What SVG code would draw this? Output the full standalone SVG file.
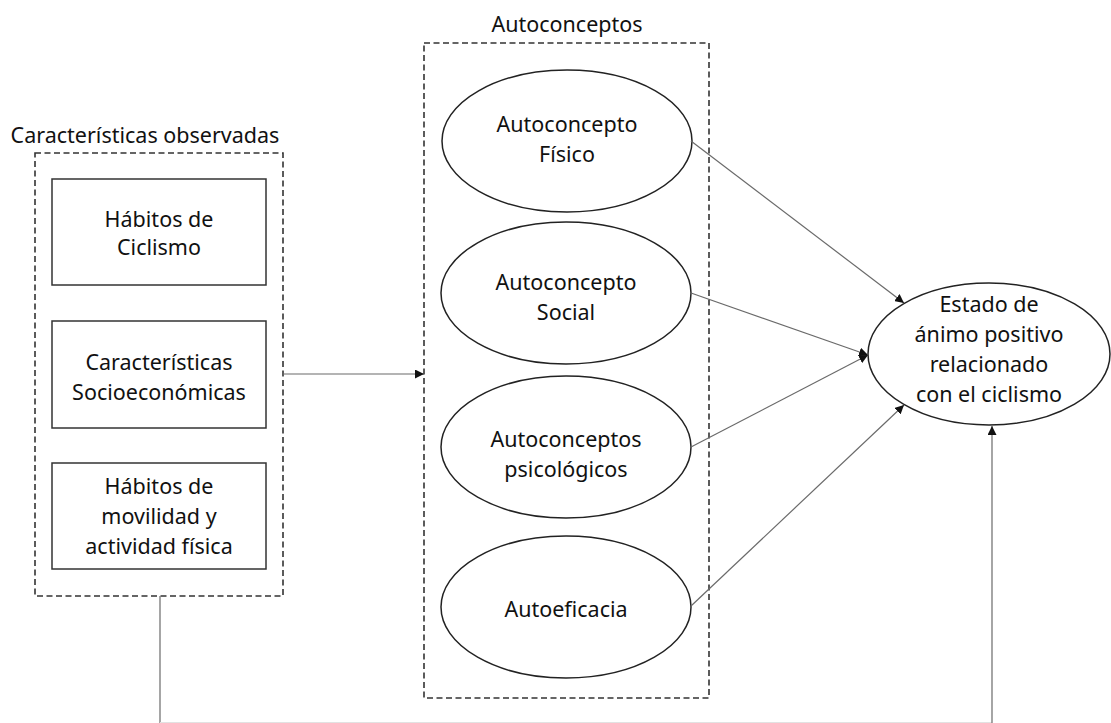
<svg xmlns="http://www.w3.org/2000/svg" width="1111" height="723" viewBox="0 0 1111 723">
  <style>
    text { font-family: "Noto Sans", "Open Sans", sans-serif; font-size: 21.5px; fill: #111; text-anchor: middle; }
    .group-box { fill: none; stroke: #333; stroke-width: 1.6; stroke-dasharray: 6 3.5; }
    .box { fill: #fff; stroke: #333; stroke-width: 1.5; }
    .oval { fill: #fff; stroke: #222; stroke-width: 1.5; }
    .link { fill: none; stroke: #6a6a6a; stroke-width: 1.2; }
  </style>
  <defs>
    <marker id="arrow" viewBox="0 0 10 10" refX="10" refY="5" markerWidth="9" markerHeight="9" markerUnits="userSpaceOnUse" orient="auto">
      <path d="M0,0 L10,5 L0,10 z" fill="#111"/>
    </marker>
  </defs>
  <rect width="1111" height="723" fill="#fff"/>

  <!-- Observed characteristics -->
  <g id="caracteristicas-observadas">
    <text x="145" y="143">Características observadas</text>
    <rect class="group-box" x="35" y="153" width="248" height="443"/>
  </g>
  <g id="habitos-ciclismo">
    <rect class="box" x="52" y="179" width="214" height="106"/>
    <text x="159" y="227">Hábitos de</text>
    <text x="159" y="255">Ciclismo</text>
  </g>
  <g id="caracteristicas-socioeconomicas">
    <rect class="box" x="52" y="321" width="214" height="107"/>
    <text x="159" y="370">Características</text>
    <text x="159" y="400">Socioeconómicas</text>
  </g>
  <g id="habitos-movilidad">
    <rect class="box" x="52" y="463" width="214" height="106"/>
    <text x="159" y="494">Hábitos de</text>
    <text x="159" y="524">movilidad y</text>
    <text x="159" y="554">actividad física</text>
  </g>

  <!-- Self-concepts -->
  <g id="autoconceptos">
    <text x="567" y="32">Autoconceptos</text>
    <rect class="group-box" x="424" y="43" width="285" height="655"/>
  </g>
  <g id="autoconcepto-fisico">
    <ellipse class="oval" cx="567" cy="141" rx="125" ry="71"/>
    <text x="567" y="132">Autoconcepto</text>
    <text x="567" y="162">Físico</text>
  </g>
  <g id="autoconcepto-social">
    <ellipse class="oval" cx="566" cy="293" rx="125" ry="71"/>
    <text x="566" y="290">Autoconcepto</text>
    <text x="566" y="320">Social</text>
  </g>
  <g id="autoconceptos-psicologicos">
    <ellipse class="oval" cx="566" cy="447" rx="125" ry="71"/>
    <text x="566" y="447">Autoconceptos</text>
    <text x="566" y="477">psicológicos</text>
  </g>
  <g id="autoeficacia">
    <ellipse class="oval" cx="566" cy="607" rx="125" ry="71"/>
    <text x="566" y="617">Autoeficacia</text>
  </g>

  <!-- Outcome -->
  <g id="estado-animo">
    <ellipse class="oval" cx="989" cy="354" rx="121" ry="71"/>
    <text x="989" y="312">Estado de</text>
    <text x="989" y="342">ánimo positivo</text>
    <text x="989" y="372">relacionado</text>
    <text x="989" y="402">con el ciclismo</text>
  </g>

  <!-- Connectors -->
  <g id="connectors">
    <line class="link" x1="283" y1="374" x2="424" y2="374" marker-end="url(#arrow)"/>
    <line class="link" x1="691" y1="141" x2="904" y2="303" marker-end="url(#arrow)"/>
    <line class="link" x1="691" y1="293" x2="868" y2="355" marker-end="url(#arrow)"/>
    <line class="link" x1="691" y1="447" x2="868" y2="355" marker-end="url(#arrow)"/>
    <line class="link" x1="691" y1="606" x2="904" y2="405" marker-end="url(#arrow)"/>
    <line class="link" x1="160" y1="596" x2="160" y2="723"/>
    <line x1="160" y1="722.5" x2="992" y2="722.5" stroke="#e2e2e2" stroke-width="1"/>
    <line class="link" x1="992" y1="723" x2="992" y2="426" marker-end="url(#arrow)"/>
  </g>
</svg>
